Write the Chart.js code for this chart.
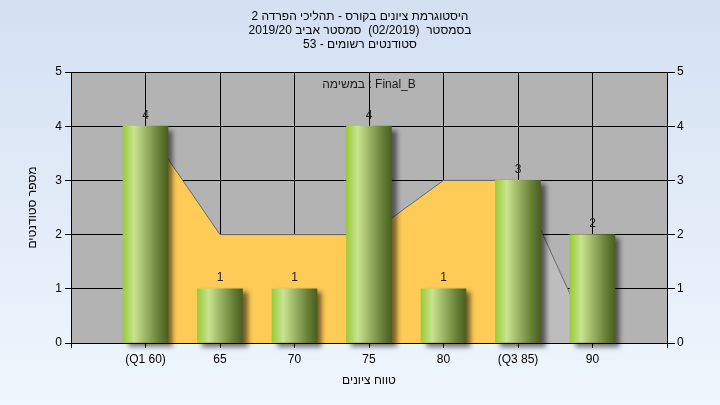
<!DOCTYPE html>
<html>
<head>
<meta charset="utf-8">
<script src="https://cdn.jsdelivr.net/npm/chart.js@4.4.0/dist/chart.umd.min.js"></script>
<style>
html, body { margin: 0; padding: 0; }
canvas { display: block; }
</style>
</head>
<body>
<canvas id="chart" width="720" height="405"></canvas>
<script>
// chart text
let titleLines = [
    "היסטוגרמת ציונים בקורס - תהליכי הפרדה 2",
    "בסמסטר  (02/2019)  סמסטר אביב 2019/20",
    "סטודנטים רשומים - 53"
];
let yTitle = "מספר סטודנטים";
let xTitle = "טווח ציונים";
let taskLabel = "במשימה : Final_B";

// data (empty slots at both ends of the axis)
let categories = ["", "(Q1 60)", "65", "70", "75", "80", "(Q3 85)", "90", ""];
let studentCounts = [null, 4, 1, 1, 4, 1, 3, 2, null];
let areaValues = [null, 4, 2, 2, 2, 3, 3, 0, null];
let yTicks = [0, 1, 2, 3, 4, 5];

let fontFamily = "'Liberation Sans', Arial, sans-serif";
let baseFont = { family: fontFamily, size: 12, weight: "normal" };

function barGradient(context) {
    let chart = context.chart;
    let xScale = chart.scales.x;
    if (!xScale || context.dataIndex === undefined) return "#9ccc3c";
    let cx = xScale.getPixelForValue(context.dataIndex);
    if (!isFinite(cx)) return "#9ccc3c";
    let g = chart.ctx.createLinearGradient(cx - 22.5, 0, cx + 22.5, 0);
    g.addColorStop(0, "#9acb3a");
    g.addColorStop(0.25, "#c8e390");
    g.addColorStop(0.55, "#93ac5e");
    g.addColorStop(0.8, "#667f36");
    g.addColorStop(1, "#495f20");
    return g;
}

function fixedTicks(scale) {
    scale.ticks = yTicks.map(v => ({ value: v }));
}

let backgroundPlugin = {
    id: "background",
    beforeDraw(chart) {
        let c = chart.ctx;
        let g = c.createLinearGradient(0, 0, 0, chart.height);
        g.addColorStop(0, "#d4e0f2");
        g.addColorStop(1, "#eff6fd");
        c.save();
        c.fillStyle = g;
        c.fillRect(0, 0, chart.width, chart.height);
        let a = chart.chartArea;
        c.fillStyle = "#b3b3b3";
        c.fillRect(a.left, a.top, a.right - a.left, a.bottom - a.top);
        c.restore();
    }
};

let shadowPlugin = {
    id: "barShadow",
    beforeDatasetDraw(chart, args) {
        if (args.meta.type !== "bar") return;
        let c = chart.ctx;
        c.save();
        c.shadowColor = "rgba(0,0,0,0.55)";
        c.shadowOffsetX = 5;
        c.shadowOffsetY = 4;
        c.shadowBlur = 5;
    },
    afterDatasetDraw(chart, args) {
        if (args.meta.type !== "bar") return;
        chart.ctx.restore();
    }
};

let labelPlugin = {
    id: "valueLabels",
    afterDatasetsDraw(chart) {
        let c = chart.ctx;
        c.save();
        c.font = "12px " + fontFamily;
        c.textAlign = "center";
        c.textBaseline = "middle";
        c.fillStyle = "#1a1a1a";
        let meta = chart.getDatasetMeta(0);
        meta.data.forEach((bar, i) => {
            let v = studentCounts[i];
            if (v === null) return;
            c.fillText(String(v), bar.x, bar.y - 11);
        });
        let a = chart.chartArea;
        c.fillText(taskLabel, (a.left + a.right) / 2, a.top + 13);
        c.restore();
    }
};

let chart = new Chart(document.getElementById("chart"), {
    data: {
        labels: categories,
        datasets: [{
            type: "bar",
            data: studentCounts,
            backgroundColor: barGradient,
            borderWidth: 0,
            barThickness: 45,
            clip: false,
            order: 1,
            yAxisID: "y"
        }, {
            type: "line",
            data: areaValues,
            fill: "origin",
            backgroundColor: "#fecb57",
            borderColor: "#6a6a6a",
            borderWidth: 1,
            pointRadius: 0,
            tension: 0,
            order: 2,
            yAxisID: "y",
            segment: {
                backgroundColor: ctx => ctx.p1DataIndex === 7 ? "#bdbdbd" : undefined
            }
        }]
    },
    options: {
        responsive: false,
        animation: false,
        layout: { padding: 0 },
        plugins: {
            legend: { display: false },
            tooltip: { enabled: false },
            title: {
                display: true,
                text: titleLines,
                color: "#000",
                font: { family: fontFamily, size: 12, weight: "normal", lineHeight: 1.15 },
                padding: { top: 10, bottom: 20.6 }
            }
        },
        scales: {
            x: {
                type: "category",
                offset: false,
                grid: { color: "#000", tickColor: "#000", tickLength: 5, offset: false },
                border: { color: "#000" },
                ticks: { color: "#000", font: baseFont, padding: 4, autoSkip: false, maxRotation: 0 },
                title: { display: true, text: xTitle, color: "#000", font: baseFont, padding: { top: 0, bottom: 17 } },
                afterFit(s) { s.height = 62; }
            },
            y: {
                position: "left",
                min: 0,
                max: 5,
                afterBuildTicks: fixedTicks,
                grid: { color: "#000", tickColor: "#000", tickLength: 6 },
                border: { color: "#000" },
                ticks: { color: "#000", font: baseFont, padding: 3 },
                title: { display: true, text: yTitle, color: "#000", font: baseFont, padding: { top: 25, bottom: 0 } },
                afterFit(s) { s.width = 71; }
            },
            y2: {
                position: "right",
                min: 0,
                max: 5,
                afterBuildTicks: fixedTicks,
                grid: { drawOnChartArea: false, color: "#000", tickColor: "#000", tickLength: 8 },
                border: { color: "#000" },
                ticks: { color: "#000", font: baseFont, padding: 2 },
                afterFit(s) { s.width = 53; }
            }
        }
    },
    plugins: [backgroundPlugin, shadowPlugin, labelPlugin]
});
</script>
</body>
</html>
